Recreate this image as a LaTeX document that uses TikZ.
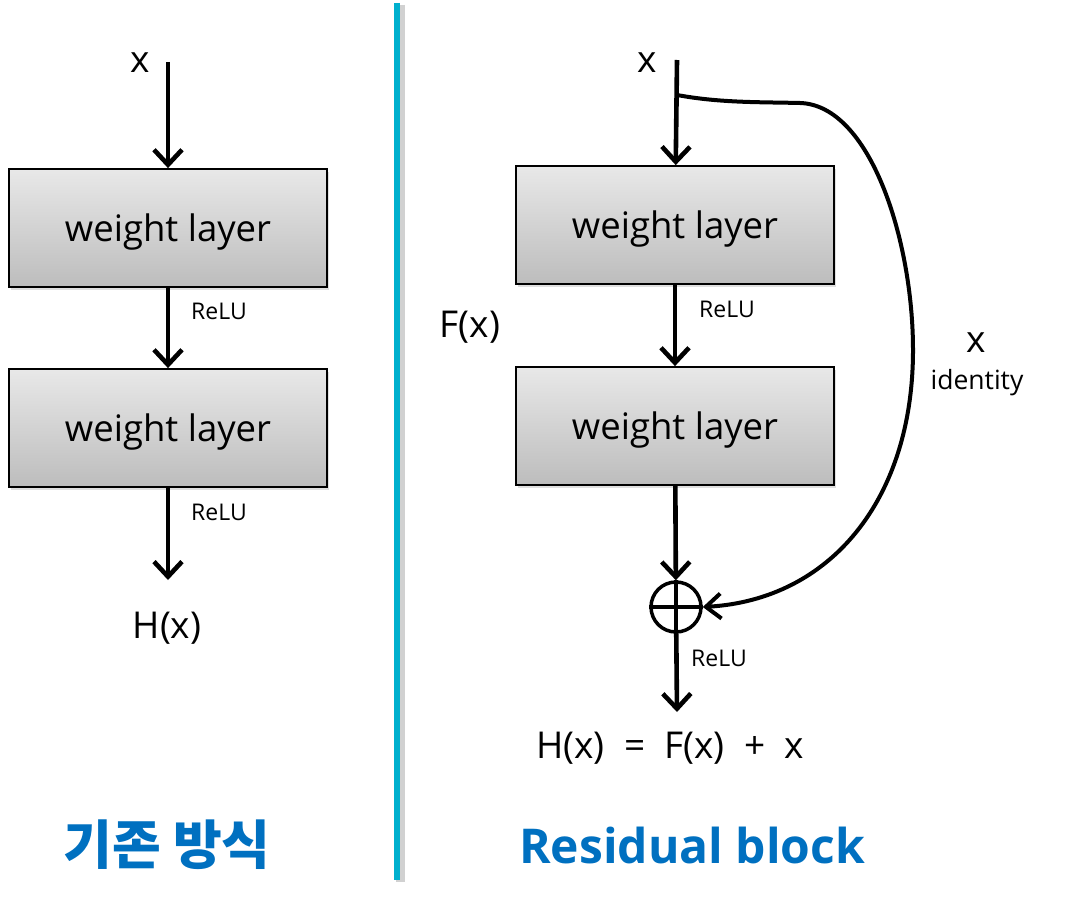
\documentclass[tikz,border=0pt]{standalone}
\usepackage{fontspec}
\setmainfont{Open Sans}
\newfontfamily\kofont{Noto Sans CJK KR}
\usetikzlibrary{arrows.meta, shadows}
\definecolor{titleblue}{RGB}{0,112,192}
\definecolor{linecyan}{RGB}{0,176,206}

\begin{document}
\begin{tikzpicture}[x=1pt, y=-1pt,
    layer/.style={draw=black, line width=1.8pt, minimum width=318pt, minimum height=118pt, inner sep=0pt,
        text depth=0pt, top color=black!9, bottom color=black!26,
        drop shadow={shadow xshift=2pt, shadow yshift=-3pt, fill=black!25},
        font=\fontsize{36.5}{42}\selectfont},
    flow/.style={line width=4.6pt, -{Straight Barb[length=15pt, width=28pt, line width=4.6pt]}},
    big/.style={font=\fontsize{37}{42}\selectfont},
    small/.style={font=\fontsize{23}{27}\selectfont},
    title/.style={text=titleblue}]
    \useasboundingbox (0,0) rectangle (1083,904);

    % plain stack
    \node[big] (xa) at (140,63) {x};
    \coordinate (ina) at (168,62);
    \node[layer] (wa1) at (168,228) {weight layer};
    \node[layer] (wa2) at (168,428) {weight layer};
    \coordinate (outa) at (168,580);
    \node[big] (ha) at (167,628) {H(x)};

    \draw[flow] (ina) -- (wa1);
    \draw[flow] (wa1) -- (wa2);
    \draw[flow] (wa2) -- (outa);
    \node[small] (ra1) at (219,311) {ReLU};
    \node[small] (ra2) at (219,512) {ReLU};

    % divider
    \draw[black!18, line width=9pt] (400,5) -- (400,882);
    \draw[linecyan, line width=6pt] (397,3) -- (397,880);

    % residual block
    \node[big] (xb) at (647,63) {x};
    \coordinate (inb) at (677,60);
    \coordinate (split) at (677,95);
    \node[layer] (wb1) at (675,225) {weight layer};
    \node[layer] (wb2) at (675,426) {weight layer};
    \node[circle, draw, line width=3.5pt, minimum size=50pt, inner sep=0pt] (plus) at (676,607) {};
    \draw[line width=3.5pt] (plus.north) -- (plus.south) (plus.west) -- (plus.east);
    \coordinate (outb) at (677,712);
    \node[big] (hb) at (670,748) {H(x)\ \ =\ \ F(x)\ \ +\ \ x};
    \node[big] (fx) at (470,327) {F(x)};
    \node[big] (xid) at (976,343) {x};
    \node[small, font=\fontsize{26.5}{31}\selectfont] (idlabel) at (977,383) {identity};

    \draw[flow] (inb) -- (wb1);
    \draw[flow] (wb1) -- (wb2);
    \draw[flow] (wb2) -- (plus);
    \draw[flow] (plus) -- (outb);
    \node[small] (rb1) at (727,309) {ReLU};
    \node[small] (rb2) at (719,658) {ReLU};

    \draw[line width=4pt, -{Straight Barb[length=15pt, width=25pt, line width=4pt]}]
        (split) .. controls (720,103) and (760,102) .. (800,103)
        .. controls (870,105) and (913,240) .. (913,350)
        .. controls (913,500) and (830,600) .. (plus.east);

    % titles
    \node[title, font=\kofont\fontsize{53}{60}\selectfont\bfseries] (ta) at (167,845) {기존 방식};
    \node[title, font=\fontsize{48}{56}\selectfont\bfseries] (tb) at (692,845) {Residual block};
\end{tikzpicture}
\end{document}
